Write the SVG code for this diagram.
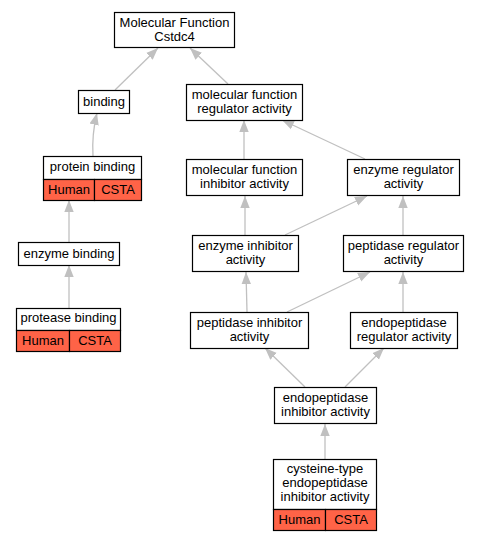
<svg xmlns="http://www.w3.org/2000/svg" width="480" height="541" viewBox="0 0 480 541">
<style>
.n{fill:#fff;stroke:#000;stroke-width:1.2}
.c{fill:#ff6347;stroke:#000;stroke-width:1.2}
text{font-family:"Liberation Sans",Arial,sans-serif;font-size:13px;fill:#000;text-anchor:middle}
.e{stroke:#c0c0c0;stroke-width:1.3;fill:none;marker-end:url(#a)}
</style>
<defs>
<marker id="a" markerUnits="userSpaceOnUse" viewBox="0 0 12 10" refX="12" refY="5" markerWidth="12" markerHeight="10" orient="auto">
<path d="M0,0.3 L12,5 L0,9.7 z" fill="#c0c0c0"/>
</marker>
</defs>
<g id="edges">
<path class="e" d="M115,90 L158,48"/>
<path class="e" d="M228,84 L190,48"/>
<path class="e" d="M93,156 C92,140 94,125 97,113"/>
<path class="e" d="M69,242 L69,200"/>
<path class="e" d="M69,308 L69,265"/>
<path class="e" d="M244,159 L244,120"/>
<path class="e" d="M365,159 L282,120"/>
<path class="e" d="M245,235 L245,196"/>
<path class="e" d="M285,235 L367,196"/>
<path class="e" d="M403,235 L403,196"/>
<path class="e" d="M247,312 L246,272"/>
<path class="e" d="M287,312 L370,272"/>
<path class="e" d="M403,312 L403,272"/>
<path class="e" d="M305,387 L265,348"/>
<path class="e" d="M345,387 L384,348"/>
<path class="e" d="M325,459 L325,424"/>
</g>
<g id="mf">
<rect class="n" x="114.5" y="12.5" width="120" height="35"/>
<text x="174.5" y="26.5">Molecular Function</text>
<text x="174.5" y="40.5">Cstdc4</text>
</g>
<g id="binding">
<rect class="n" x="78.5" y="90.5" width="51" height="23"/>
<text x="104" y="106">binding</text>
</g>
<g id="mfra">
<rect class="n" x="186.5" y="84.5" width="116" height="36"/>
<text x="244.5" y="98.5">molecular function</text>
<text x="244.5" y="112.5">regulator activity</text>
</g>
<g id="pb">
<rect class="n" x="43.5" y="156.5" width="98" height="23"/>
<text x="92.5" y="171">protein binding</text>
<rect class="c" x="43.5" y="179.5" width="51" height="21"/>
<rect class="c" x="94.5" y="179.5" width="47" height="21"/>
<text x="69" y="193.5">Human</text>
<text x="118" y="193.5">CSTA</text>
</g>
<g id="mfia">
<rect class="n" x="186.5" y="159.5" width="116" height="36"/>
<text x="244.5" y="173.5">molecular function</text>
<text x="244.5" y="187.5">inhibitor activity</text>
</g>
<g id="era">
<rect class="n" x="347.5" y="159.5" width="112" height="36"/>
<text x="403.5" y="173.5">enzyme regulator</text>
<text x="403.5" y="187.5">activity</text>
</g>
<g id="eb">
<rect class="n" x="18.5" y="242.5" width="101" height="23"/>
<text x="69" y="257.5">enzyme binding</text>
</g>
<g id="eia">
<rect class="n" x="192.5" y="235.5" width="106" height="36"/>
<text x="245.5" y="249.5">enzyme inhibitor</text>
<text x="245.5" y="263.5">activity</text>
</g>
<g id="pra">
<rect class="n" x="343.5" y="235.5" width="120" height="36"/>
<text x="403.5" y="249.5">peptidase regulator</text>
<text x="403.5" y="263.5">activity</text>
</g>
<g id="prb">
<rect class="n" x="16.5" y="308.5" width="104" height="22"/>
<text x="68.5" y="322">protease binding</text>
<rect class="c" x="16.5" y="330.5" width="53" height="21"/>
<rect class="c" x="69.5" y="330.5" width="51" height="21"/>
<text x="43" y="344.5">Human</text>
<text x="95" y="344.5">CSTA</text>
</g>
<g id="pia">
<rect class="n" x="190.5" y="312.5" width="118" height="36"/>
<text x="249.5" y="326.5">peptidase inhibitor</text>
<text x="249.5" y="340.5">activity</text>
</g>
<g id="epra">
<rect class="n" x="350.5" y="312.5" width="107" height="36"/>
<text x="404" y="326.5">endopeptidase</text>
<text x="404" y="340.5">regulator activity</text>
</g>
<g id="epia">
<rect class="n" x="274.5" y="387.5" width="102" height="36"/>
<text x="325.5" y="401.5">endopeptidase</text>
<text x="325.5" y="415.5">inhibitor activity</text>
</g>
<g id="cys">
<rect class="n" x="273.5" y="459.5" width="103" height="50"/>
<text x="325" y="473">cysteine-type</text>
<text x="325" y="487">endopeptidase</text>
<text x="325" y="501">inhibitor activity</text>
<rect class="c" x="273.5" y="509.5" width="52" height="21"/>
<rect class="c" x="325.5" y="509.5" width="51" height="21"/>
<text x="299.5" y="523.5">Human</text>
<text x="351" y="523.5">CSTA</text>
</g>
</svg>
